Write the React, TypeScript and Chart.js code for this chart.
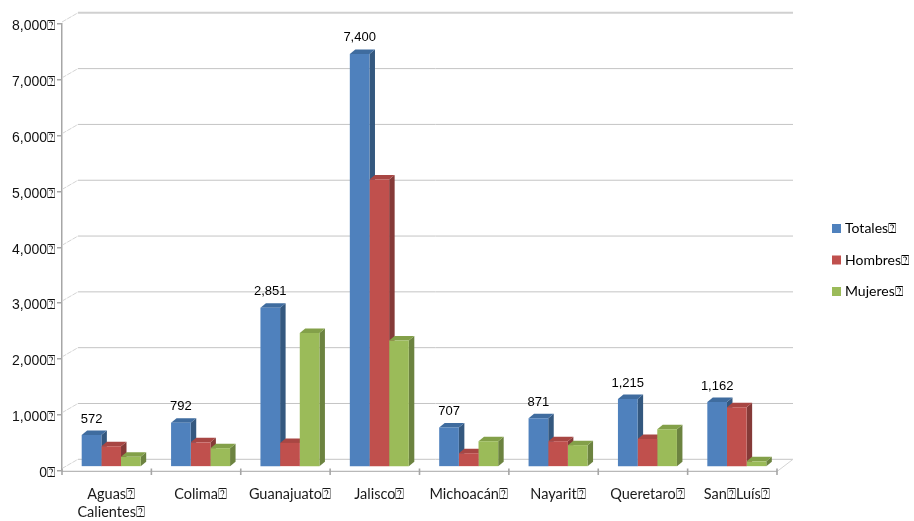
import React, { useEffect, useRef } from "react";
import { Chart, registerables } from "chart.js";

Chart.register(...registerables);

const Q = "\u2370";
const categories = [
  ["Aguas" + Q, "Calientes" + Q],
  "Colima" + Q,
  "Guanajuato" + Q,
  "Jalisco" + Q,
  "Michoac\u00e1n" + Q,
  "Nayarit" + Q,
  "Queretaro" + Q,
  "San" + Q + "Lu\u00eds" + Q,
];
const totales = [572, 792, 2851, 7400, 707, 871, 1215, 1162];
const hombres = [370, 440, 430, 5150, 245, 460, 500, 1070];
const mujeres = [180, 335, 2400, 2265, 460, 390, 675, 100];
const seriesNames = ["Totales" + Q, "Hombres" + Q, "Mujeres" + Q];
const frontColors = ["#4f81bd", "#c0504d", "#9bbb59"];
const sideColors = ["#34587f", "#853a38", "#6c8340"];
const topColors = ["#3f6c9f", "#a84643", "#83a049"];

const DEPTH_X = 5.5;
const DEPTH_Y = 4.5;
const BAR_SHIFT_X = 4.5;
const BAR_SHIFT_Y = -3.6;
const GRID_SHIFT_X = 16;
const GRID_SHIFT_Y = -11.2;
const AXIS_COLOR = "#a6a6a6";

const fmt = (v: number) => v.toLocaleString("en-US");

const depthPlugin = {
  id: "depth",
  beforeLayout(chart: any) {
    const l = chart.legend;
    if (l && !l.__sized) {
      l.__sized = true;
      const fit = l.fit;
      l.fit = function () {
        fit.call(this);
        this.width = 137;
      };
    }
  },
  afterLayout(chart: any) {
    const l = chart.legend;
    if (l) {
      l.left = 817.5;
      l.right = 914;
      l.top = 204;
      l.bottom = 521;
    }
  },
  beforeDatasetsDraw(chart: any) {
    const { ctx, scales } = chart;
    const x = scales.x;
    const y = scales.y;
    ctx.save();
    // back wall grid and the floor/wall joins
    for (let v = 0; v <= 8000; v += 1000) {
      const py = y.getPixelForValue(v);
      const top = v === 8000;
      ctx.beginPath();
      ctx.strokeStyle = top ? "#d0d0d0" : "#c4c4c4";
      ctx.lineWidth = top ? 2 : 1;
      ctx.moveTo(x.left + GRID_SHIFT_X, py + GRID_SHIFT_Y);
      ctx.lineTo(x.right + GRID_SHIFT_X, py + GRID_SHIFT_Y);
      ctx.stroke();
      ctx.beginPath();
      ctx.strokeStyle = "#d4d4d4";
      ctx.lineWidth = 1;
      ctx.setLineDash([5, 1]);
      ctx.moveTo(x.left, py - 2);
      ctx.lineTo(x.left + GRID_SHIFT_X, py + GRID_SHIFT_Y);
      ctx.stroke();
      ctx.setLineDash([]);
    }
    const zero = y.getPixelForValue(0);
    ctx.beginPath();
    ctx.strokeStyle = "#d4d4d4";
    ctx.moveTo(x.right, zero + 1);
    ctx.lineTo(x.right + GRID_SHIFT_X, zero + GRID_SHIFT_Y);
    ctx.stroke();

    // front axis and its tick marks on both sides
    ctx.beginPath();
    ctx.strokeStyle = AXIS_COLOR;
    ctx.lineWidth = 1;
    ctx.moveTo(x.left, zero + 0.8);
    ctx.lineTo(x.right, zero + 0.8);
    ctx.stroke();
    const step = (x.right - x.left) / categories.length;
    ctx.lineWidth = 1.6;
    for (let i = 0; i <= categories.length; i++) {
      const px = x.left + i * step;
      ctx.beginPath();
      ctx.moveTo(px, zero - 2);
      ctx.lineTo(px, zero + 4.5);
      ctx.stroke();
    }

    // bar side and top faces, behind every front face
    ctx.translate(BAR_SHIFT_X, BAR_SHIFT_Y);
    chart.data.datasets.forEach((_: any, di: number) => {
      const meta = chart.getDatasetMeta(di);
      meta.data.forEach((bar: any) => {
        const p = bar.getProps(["x", "y", "base", "width"], true);
        const l = p.x - p.width / 2;
        const r = p.x + p.width / 2;
        ctx.fillStyle = sideColors[di];
        ctx.beginPath();
        ctx.moveTo(r, p.y);
        ctx.lineTo(r + DEPTH_X, p.y - DEPTH_Y);
        ctx.lineTo(r + DEPTH_X, p.base - DEPTH_Y);
        ctx.lineTo(r, p.base);
        ctx.closePath();
        ctx.fill();
        ctx.fillStyle = topColors[di];
        ctx.beginPath();
        ctx.moveTo(l, p.y);
        ctx.lineTo(l + DEPTH_X, p.y - DEPTH_Y);
        ctx.lineTo(r + DEPTH_X, p.y - DEPTH_Y);
        ctx.lineTo(r, p.y);
        ctx.closePath();
        ctx.fill();
      });
    });
    // the fronts are drawn by Chart.js inside this same translation
  },
  afterDatasetsDraw(chart: any) {
    const { ctx } = chart;
    ctx.fillStyle = "#000000";
    ctx.font = "13px 'Liberation Sans'";
    ctx.textAlign = "center";
    ctx.textBaseline = "middle";
    chart.getDatasetMeta(0).data.forEach((bar: any, i: number) => {
      const p = bar.getProps(["x", "y"], true);
      ctx.fillText(fmt(totales[i]), p.x, p.y - 16);
    });
    ctx.restore();
  },
};

export default function App() {
  const ref = useRef<HTMLCanvasElement>(null);
  useEffect(() => {
    const chart = new Chart(ref.current as HTMLCanvasElement, {
      type: "bar",
      data: {
        labels: categories,
        datasets: [totales, hombres, mujeres].map((d, i) => ({
          label: seriesNames[i],
          data: d,
          backgroundColor: frontColors[i],
          borderWidth: 0,
          categoryPercentage: 0.66,
          barPercentage: 1,
          clip: false,
        })),
      } as any,
      options: {
        animation: false,
        responsive: false,
        devicePixelRatio: 1,
        layout: { padding: { top: 24, left: 0, right: 0, bottom: 0 } },
        plugins: {
          tooltip: { enabled: false },
          legend: {
            position: "right",
            align: "start",
            labels: {
              boxWidth: 3,
              boxHeight: 3,
              padding: 17.5,
              color: "#1a1a1a",
              font: { family: "Lato", size: 14 },
              generateLabels: () =>
                seriesNames.map((n, i) => ({
                  text: n,
                  fillStyle: frontColors[i],
                  strokeStyle: frontColors[i],
                  lineWidth: 6,
                  datasetIndex: i,
                })),
            },
          },
        },
        scales: {
          x: {
            grid: { display: false },
            border: { display: false },
            afterFit(s: any) {
              s.height = 50.5;
            },
            ticks: {
              autoSkip: false,
              maxRotation: 0,
              minRotation: 0,
              padding: 6,
              labelOffset: 4.5,
              color: "#1a1a1a",
              font: { family: "Lato", size: 14.5, lineHeight: 1.3 },
            },
          },
          y: {
            min: 0,
            max: 8000,
            grid: {
              drawOnChartArea: false,
              color: AXIS_COLOR,
              tickLength: 5,
              lineWidth: 1.5,
            },
            border: { color: AXIS_COLOR, width: 1.5 },
            afterFit(s: any) {
              s.width = 62;
            },
            ticks: {
              stepSize: 1000,
              padding: 2,
              labelOffset: 2.5,
              color: "#111111",
              font: { family: "Liberation Sans", size: 14 },
              callback: (v: any) => fmt(Number(v)) + Q,
            },
          },
        },
      },
      plugins: [depthPlugin],
    } as any);
    return () => chart.destroy();
  }, []);
  return (
    <div style={{ position: "fixed", left: 0, top: 0, width: 914, height: 521, background: "#fff" }}>
      <canvas ref={ref} width={914} height={521} style={{ display: "block" }} />
    </div>
  );
}
